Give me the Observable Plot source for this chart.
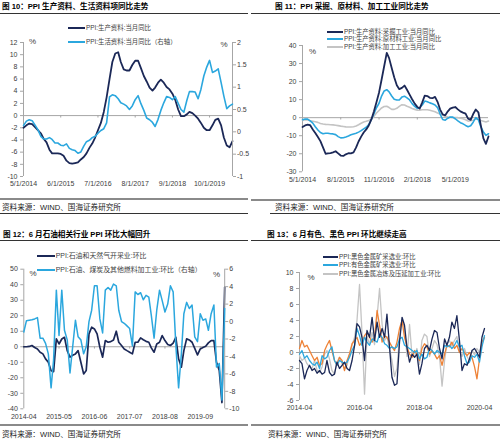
<!DOCTYPE html>
<html><head><meta charset="utf-8">
<script src="https://cdn.jsdelivr.net/npm/d3@7"></script>
<script src="https://cdn.jsdelivr.net/npm/@observablehq/plot@0.6"></script>
<style>
html,body{margin:0;padding:0;background:#fff;}
#root{position:relative;width:500px;height:442px;overflow:hidden;background:#fff;font-family:"Liberation Sans",Arial,"Noto Sans CJK SC",sans-serif;}
.t{position:absolute;white-space:nowrap;font-size:7.6px;font-weight:700;color:#000;line-height:10px;font-family:"Liberation Sans","Noto Sans CJK SC",sans-serif;}
.src{position:absolute;white-space:nowrap;font-size:7.6px;color:#222;line-height:9px;font-family:"Liberation Sans","Noto Sans CJK SC",sans-serif;}
.rule{position:absolute;}
.leg{position:absolute;white-space:nowrap;color:#404040;line-height:8px;height:8px;display:flex;align-items:center;font-family:"Liberation Sans","Noto Sans CJK SC",sans-serif;}
.leg i{display:inline-block;height:0;border-top:2px solid;margin-right:1px;}
.pct{position:absolute;font-size:8px;color:#404040;line-height:8px;}
.box{position:absolute;}
.box svg{position:absolute;left:0;top:0;max-width:none !important;}
</style></head>
<body><div id="root"></div>
<script>
// ---------- text ----------
const titles = ["图 10：PPI 生产资料、生活资料项同比走势","图 11：PPI 采掘、原材料、加工工业同比走势","图 12：6 月石油相关行业 PPI 环比大幅回升","图 13：6 月有色、黑色 PPI 环比继续走高"];
const sourceText = "资料来源：WIND、国海证券研究所";

// ---------- panel 1 (monthly from 2014-05) ----------
const p1Start = "2014-05";
const p1Producer = [-2.0,-1.6,-1.3,-1.4,-1.9,-2.4,-2.9,-3.8,-4.4,-5.6,-6.2,-6.2,-6.2,-6.3,-6.6,-7.4,-7.8,-7.9,-7.8,-7.7,-7.2,-6.8,-6.2,-5.3,-4.6,-3.6,-2.4,-1.2,0.6,3.0,6.0,8.8,10.2,10.4,8.8,7.6,7.4,7.4,8.3,9.0,9.0,7.8,6.5,5.6,4.6,4.1,4.6,5.4,5.9,5.4,4.7,4.3,3.6,2.6,1.0,-0.1,-0.1,0.2,0.6,0.4,0.0,-0.5,-1.2,-2.0,-2.4,-2.4,-1.6,-0.7,-0.5,-1.6,-3.6,-4.9,-5.2,-4.2];
const p1Consumer = [0.14,0.24,0.27,0.25,0.15,0.05,-0.1,-0.16,-0.16,-0.13,-0.17,-0.25,-0.25,-0.3,-0.31,-0.27,-0.37,-0.40,-0.42,-0.48,-0.45,-0.32,-0.22,-0.19,-0.13,-0.10,-0.03,0.03,0.07,0.2,0.78,0.83,0.81,0.74,0.65,0.62,0.58,0.50,0.58,0.72,0.81,0.63,0.48,0.31,0.27,0.21,0.12,0.28,0.48,0.65,0.79,0.77,0.72,0.79,0.64,0.5,0.44,0.7,0.9,0.9,0.89,0.74,0.95,1.25,1.45,1.6,1.33,1.36,1.41,1.1,0.8,0.52,0.58,0.62];
const p1Ticks = ["2014-05","2015-06","2016-07","2017-08","2018-09","2019-10"];
const p1TickLabels = ["5/1/2014","6/1/2015","7/1/2016","8/1/2017","9/1/2018","10/1/2019"];
const p1LeftTicks = [-10,-8,-6,-4,-2,0,2,4,6,8,10,12];
const p1RightTicks = [-1,-0.5,0,0.5,1,1.5,2];
const p1Legend = ["PPI:生产资料:当月同比","PPI:生活资料:当月同比（右轴）"];

// ---------- panel 2 (monthly from 2014-05) ----------
const p2Start = "2014-05";
const p2Mining = [-5.2,-4.3,-3.9,-4.2,-6.5,-8.5,-10.7,-13,-16.5,-20,-19.8,-19.6,-19.2,-18.6,-19.8,-21,-21.2,-20.3,-19.7,-19.8,-19.2,-16.5,-13.2,-10.5,-8.2,-6.5,-4.3,-1,3.5,8.5,14,21,28.5,35.9,33,27.5,22.4,18,15.8,16.5,17.8,15.5,12.8,10.2,7.8,6.0,5.0,8.5,12.2,12.0,11.0,10.8,11.5,8.8,4.5,1.8,1.3,3.5,5.0,5.6,5.9,4.6,3.5,2.8,2.2,-0.5,-1.2,2.0,4.5,3.0,-4.3,-11.5,-14.5,-10.4];
const p2Raw = [-1.1,-0.7,-0.8,-1.8,-3.0,-5.0,-6.8,-8.2,-8.9,-8.6,-8.6,-8.9,-9.0,-9.4,-10.5,-11.2,-11.1,-10.7,-10.2,-9.5,-9.0,-8.6,-8.0,-7.2,-6.2,-5.3,-3.8,-1.0,2.2,5.5,8.0,12.0,14.8,15.5,14.3,12.0,10.2,9.8,9.8,11.4,11.9,11.0,9.8,7.8,6.2,5.1,5.5,7.0,9.2,8.8,8.2,7.7,7.0,5.6,2.0,-1.0,-1.4,-0.3,0.4,0.3,-0.6,-1.8,-2.8,-3.4,-4.3,-5.0,-4.5,-2.5,0.0,-1.2,-5.0,-8.0,-9.8,-8.9];
const p2Proc = [-1.5,-1.2,-1.1,-1.7,-2.0,-2.3,-2.6,-3.2,-3.5,-3.7,-3.8,-3.9,-4.0,-4.2,-4.4,-4.7,-4.9,-5.1,-5.2,-5.2,-5.0,-4.6,-3.9,-3.1,-2.4,-2.0,-1.5,-0.8,0.8,2.6,4.0,5.4,6.2,6.3,5.6,4.6,4.6,5.2,6.3,7.2,7.0,6.3,5.8,5.1,4.6,4.1,4.2,4.4,4.4,4.4,4.1,3.7,3.3,2.6,2.0,1.3,0.8,0.4,0.2,0.0,0.0,0.0,-0.3,-0.6,-1.2,-1.9,-1.7,-1.4,-0.8,-0.8,-1.6,-2.0,-2.4,-1.9];
const p2Ticks = ["2014-05","2015-08","2016-11","2018-02","2019-05"];
const p2TickLabels = ["5/1/2014","8/1/2015","11/1/2016","2/1/2018","5/1/2019"];
const p2YTicks = [-30,-20,-10,0,10,20,30,40];
const p2Legend = ["PPI:生产资料:采掘工业:当月同比","PPI:生产资料:原材料工业:当月同比","PPI:生产资料:加工工业:当月同比"];

// ---------- panel 3 (monthly from 2014-04) ----------
const p3Start = "2014-04";
const p3OilGas = [0,0,0.2,0.8,-0.5,-1.4,-3.5,-4.6,-7.8,-10,-15.5,-16,5.1,1.8,5.0,6.1,-2.5,-6.7,-5.5,-4.6,-2.5,-10,-17.5,-15.3,8.3,12.6,11.5,8.3,-0.3,-6.7,4.0,2.9,3.3,4.4,10,2.9,0.8,-1.4,-2.5,-3.5,-4.6,2.9,2.9,5.7,4.5,3.5,2.9,-0.7,-3.5,1.8,2.9,7.2,4.0,1.5,0.8,2.3,6.1,-7.8,-13.2,-2.5,5.1,4.4,2.9,-1.0,-5.3,-1.4,-0.5,0.3,2.5,4.0,4.0,-10,-15.3,-36,38.5];
const p3Petro = [-1.2,0.1,0.15,0.2,0.3,0.45,-1.9,-1.9,-2.5,-3.7,-7.6,-4.4,3.6,-1.6,3.6,-1.0,-2.1,-5.9,-2.9,0.15,-1.75,-2.1,-3.7,-2.9,0.0,1.3,4.1,4.1,0.3,-1.3,3.6,3.9,3.6,4.3,4.1,1.3,0.0,-0.2,-0.5,-0.8,-2.8,3.4,3.1,3.3,2.5,3.0,2.8,0.7,-1.9,1.3,3.6,2.4,1.1,2.0,4.1,3.4,-2.7,-7.6,-3.7,0.9,2.2,1.5,1.9,-1.75,-2.3,0.9,0.15,0.3,-1.0,0.9,1.9,-5.2,-4.8,-9.0,1.5];
const p3Ticks = ["2014-04","2015-05","2016-06","2017-07","2018-08","2019-09"];
const p3TickLabels = ["2014-04","2015-05","2016-06","2017-07","2018-08","2019-09"];
const p3LeftTicks = [-40,-30,-20,-10,0,10,20,30,40,50];
const p3RightTicks = [-10,-8,-6,-4,-2,0,2,4,6];
const p3Legend = ["PPI:石油和天然气开采业:环比","PPI:石油、煤炭及其他燃料加工业:环比（右轴）"];

// ---------- panel 4 (monthly from 2014-04) ----------
const p4Start = "2014-04";
const p4FerrousMining = [-1.0,-1.4,-3.3,-2.25,-1.6,-2.25,-2,-2.6,-2.25,-2.7,-2.5,-1,-2.5,-2.9,-2.7,-1.2,-2,-1.6,-1.2,-2,-2.25,-1,0.9,3.6,3.2,1.9,-1.0,2.75,1.9,4.4,1.5,3.8,1.9,3,1.9,4.8,0.7,-3.1,-4.1,-3.9,1.3,4.4,3.4,0.5,-1.2,-0.2,-0.6,-0.2,-2.7,-1.4,0.5,0.9,0.25,1.7,2.75,2.5,0.5,-0.8,1.7,0.9,1.9,3.8,3.0,4.6,1.5,-2.25,-1.4,-1.6,-0.8,0.25,0.5,0,-0.6,1.9,3.0];
const p4NonferrousMining = [-0.2,0.25,-0.7,-0.4,-1.0,-1.4,-1.6,-1.2,-2.0,-0.4,-0.8,-0.6,0.25,0.7,-1.0,-1.6,-1.0,-1.2,-1.4,-1.2,-0.6,0.25,0.9,3.0,2.1,0.9,1.9,1.3,0.9,1.7,1.5,1.3,2.3,1.9,1.1,0.9,0.5,0.7,0.5,0.7,1.7,1.9,0.9,0.7,0.5,0.25,0,0.25,-0.8,-0.2,-0.8,-0.6,0.5,0.25,-0.2,0.25,0,-0.2,0.9,0.7,0.9,0.5,0.9,1.5,0.7,0.9,-0.4,-1.4,-1.2,-0.4,-0.6,-0.2,-1.2,0.7,2.1];
const p4FerrousSmelting = [-0.4,-1,-0.7,-1.4,-1.8,-2.0,-1.0,-2.25,-2.5,-1.8,-0.2,0.25,-0.8,-2.25,-2.7,-1.2,-0.6,-1.4,-2.0,-1.6,-0.2,0.9,1.9,4.0,8.5,2.5,-5.2,2.0,1.0,2.5,1.0,4.5,8.0,3.5,1.5,2.0,0.5,-1.0,-3.0,-2.0,2.0,4.0,3.0,-0.5,3.5,-0.5,-0.5,0.5,-1.5,1.5,2.3,2.0,-0.5,0.5,1.5,1.0,-0.5,-4.2,-1.0,1.0,1.5,0.8,1.5,2.0,0.3,-0.5,0.5,-0.5,-1.0,0.3,-0.3,0.5,0.0,1.0,1.8];
const p4NonferrousSmelting = [0.5,1.5,0.7,0.9,0.25,-0.4,-1.0,-0.6,-1.6,-1.4,0.25,0.9,1.5,0.25,-1.0,-1.6,-0.6,-1.0,-2.25,-1.0,-0.2,1.1,1.5,1.9,0.9,1.3,2.1,2.5,1.9,1.3,1.9,5.25,3.4,1.3,2.1,1.9,1.3,0.7,0.25,1.3,3.0,4.0,1.9,0.7,-0.2,-0.6,0.25,-0.2,-1.0,0.5,1.1,0.7,-0.2,0.25,-0.2,-0.8,-0.4,-1.6,-0.2,0.9,0.7,1.3,0.5,0.9,0,0.5,0,-0.4,0,-0.6,-1.8,-3.3,-0.8,1.3,1.9];
const p4Ticks = ["2014-04","2016-04","2018-04","2020-04"];
const p4TickLabels = ["2014-04","2016-04","2018-04","2020-04"];
const p4YTicks = [-6,-4,-2,0,2,4,6,8,10];
const p4Legend = ["PPI:黑色金属矿采选业:环比","PPI:有色金属矿采选业:环比","PPI:黑色金属冶炼及压延加工业:环比"];

// ---------- colours ----------
const NAVY = "#1b2857", SKY = "#2ba7de", GRAY = "#c4c4c4", ORANGE = "#ee8236";
const AXIS = "#a6a6a6", TXT = "#404040";
const FONT = '"Liberation Sans", Arial, "Noto Sans CJK SC", sans-serif';

const root = document.getElementById("root");
const md = s => new Date(s + "-01T00:00:00Z");
const series = (start, values) => values.map((v, i) => ({date: d3.utcMonth.offset(md(start), i), value: v}));
const endOf = (start, values) => d3.utcMonth.offset(md(start), values.length - 1);
const labeler = (ticks, labels) => { const m = new Map(ticks.map((t, i) => [+md(t), labels[i]])); return d => m.get(+d) ?? ""; };

function makePlot(o) {
  const marks = [];
  const [x0, x1] = o.xDomain;
  if (o.zero) {
    marks.push(Plot.ruleY([0], {stroke: AXIS, strokeWidth: 1}));
    marks.push(Plot.ruleX(o.xTicks.map(md), {x: d => d, y1: 0, y2: -o.tickLen, stroke: AXIS}));
  }
  marks.push(Plot.ruleX([o.anchor === "right" ? x1 : x0], {stroke: AXIS}));
  marks.push(Plot.axisY({anchor: o.anchor, ticks: o.yTicks, tickSize: 3, tickPadding: o.anchor === "right" ? 1.5 : 3,
    tickFormat: d => String(d), stroke: AXIS, fill: TXT, label: null}));
  if (!o.overlay) marks.push(Plot.axisX({ticks: o.xTicks.map(md), tickFormat: labeler(o.xTicks, o.xLabels), tickSize: 0, tickPadding: 5, fill: TXT, label: null}));
  for (const s of o.lines) marks.push(Plot.line(s.data, {x: "date", y: "value", stroke: s.color, strokeWidth: s.width, strokeLinejoin: "round"}));
  return Plot.plot({
    width: o.w, height: o.h, marginTop: o.mt, marginRight: o.mr, marginBottom: o.mb, marginLeft: o.ml,
    x: {type: "utc", domain: o.xDomain, axis: o.overlay ? null : undefined},
    y: {domain: o.yDomain, axis: null},
    style: {fontFamily: FONT, fontSize: "7px", background: "transparent", overflow: "visible", color: TXT},
    marks
  });
}

function box(left, top, w, h, svgs) {
  const d = document.createElement("div");
  d.className = "box";
  Object.assign(d.style, {left: left + "px", top: top + "px", width: w + "px", height: h + "px"});
  svgs.forEach(s => d.appendChild(s));
  root.appendChild(d);
}
function text(cls, str, left, cy, extra = {}) {
  const d = document.createElement("div");
  d.className = cls; d.textContent = str;
  Object.assign(d.style, {left: left + "px", top: (cy - 5) + "px"}, extra);
  root.appendChild(d);
  return d;
}
function rule(x0, x1, y, thick, color) {
  const d = document.createElement("div");
  d.className = "rule";
  Object.assign(d.style, {left: x0 + "px", width: (x1 - x0) + "px", top: (y - thick / 2) + "px", height: thick + "px", background: color});
  root.appendChild(d);
}
function legend(items, x, lineW, ys, fs) {
  items.forEach((it, i) => {
    const d = document.createElement("div");
    d.className = "leg";
    d.style.left = x + "px"; d.style.top = (ys[i] - 4) + "px"; d.style.fontSize = fs + "px";
    const sw = document.createElement("i");
    sw.style.width = lineW + "px"; sw.style.borderTopColor = it.color;
    d.appendChild(sw);
    d.appendChild(document.createTextNode(it.label));
    root.appendChild(d);
  });
}
function pct(x, cy) { const d = text("pct", "%", x, cy); d.style.top = (cy - 4) + "px"; }

// ---------- frame: titles and sources ----------
text("t", titles[0], 2, 7);
text("t", titles[1], 275, 7);
text("t", titles[2], 3, 234.7);
text("t", titles[3], 267, 234.7);
rule(0, 248, 13.6, 1.6, "#333");
rule(251, 500, 13.6, 1.6, "#333");
rule(0, 248, 240.3, 1.6, "#333");
rule(251, 500, 240.3, 1.6, "#333");
rule(0, 248, 199.2, 1.6, "#8a8a8a");
rule(251, 500, 199.8, 1.6, "#8a8a8a");
rule(0, 248, 213.5, 0.8, "#333");
rule(270, 500, 213.5, 0.8, "#333");
rule(0, 248, 425, 1.6, "#8a8a8a");
rule(251, 500, 425, 1.6, "#8a8a8a");
text("src", sourceText, 2, 207.5);
text("src", sourceText, 275, 207.5);
text("src", sourceText, 2, 434.5);
text("src", sourceText, 268, 434.5);

// ---------- panel 1 ----------
{
  const dom = [md(p1Start), endOf(p1Start, p1Producer)];
  const g = {w: 250, h: 180, mt: 22, mr: 18, mb: 24, ml: 23, xDomain: dom, xTicks: p1Ticks, xLabels: p1TickLabels};
  const base = makePlot({...g, yDomain: [-10, 12], yTicks: p1LeftTicks, anchor: "left", zero: true, tickLen: 0.4,
    lines: [{data: series(p1Start, p1Producer), color: NAVY, width: 1.8}]});
  const over = makePlot({...g, overlay: true, yDomain: [-1, 2], yTicks: p1RightTicks, anchor: "right",
    lines: [{data: series(p1Start, p1Consumer), color: SKY, width: 1.6}]});
  box(0, 20, 250, 180, [base, over]);
  legend([{label: p1Legend[0], color: NAVY}, {label: p1Legend[1], color: SKY}], 68, 17, [28.3, 41.5], 6.4);
  pct(29, 42); pct(220.5, 45);
}
// ---------- panel 2 ----------
{
  const dom = [md(p2Start), endOf(p2Start, p2Mining)];
  const base = makePlot({w: 250, h: 180, mt: 25, mr: 12, mb: 28.7, ml: 52, xDomain: dom, xTicks: p2Ticks, xLabels: p2TickLabels,
    yDomain: [-30, 40], yTicks: p2YTicks, anchor: "left", zero: true, tickLen: 1.3,
    lines: [{data: series(p2Start, p2Proc), color: GRAY, width: 1.6},
            {data: series(p2Start, p2Raw), color: SKY, width: 1.6},
            {data: series(p2Start, p2Mining), color: NAVY, width: 1.8}]});
  box(250, 20, 250, 180, [base]);
  legend([{label: p2Legend[0], color: NAVY}, {label: p2Legend[1], color: SKY}, {label: p2Legend[2], color: GRAY}], 327, 16, [31.7, 39.2, 46.7], 6.3);
  pct(309, 52);
}
// ---------- panel 3 ----------
{
  const dom = [md(p3Start), endOf(p3Start, p3OilGas)];
  const g = {w: 250, h: 190, mt: 23.7, mr: 25.8, mb: 26.7, ml: 23.3, xDomain: dom, xTicks: p3Ticks, xLabels: p3TickLabels};
  const base = makePlot({...g, yDomain: [-40, 50], yTicks: p3LeftTicks, anchor: "left", zero: true, tickLen: 1.5,
    lines: [{data: series(p3Start, p3OilGas), color: NAVY, width: 1.7}]});
  const over = makePlot({...g, overlay: true, yDomain: [-10, 6], yTicks: p3RightTicks, anchor: "right",
    lines: [{data: series(p3Start, p3Petro), color: SKY, width: 1.5}]});
  box(0, 245, 250, 190, [base, over]);
  legend([{label: p3Legend[0], color: NAVY}, {label: p3Legend[1], color: SKY}], 36.7, 18, [256.3, 269.7], 6.9);
  pct(29.5, 273.8); pct(213, 274.5);
}
// ---------- panel 4 ----------
{
  const dom = [md(p4Start), endOf(p4Start, p4FerrousMining)];
  const base = makePlot({w: 250, h: 190, mt: 27, mr: 16, mb: 35, ml: 49, xDomain: dom, xTicks: p4Ticks, xLabels: p4TickLabels,
    yDomain: [-6, 10], yTicks: p4YTicks, anchor: "left", zero: true, tickLen: 0.3,
    lines: [{data: series(p4Start, p4FerrousSmelting), color: GRAY, width: 1.3},
            {data: series(p4Start, p4NonferrousSmelting), color: ORANGE, width: 1.3},
            {data: series(p4Start, p4NonferrousMining), color: SKY, width: 1.3},
            {data: series(p4Start, p4FerrousMining), color: NAVY, width: 1.3}]});
  box(250, 245, 250, 190, [base]);
  legend([{label: p4Legend[0], color: NAVY}, {label: p4Legend[1], color: SKY}, {label: p4Legend[2], color: GRAY}], 322.7, 15.3, [257, 265.3, 273.7], 6.3);
  pct(307.5, 278);
}
</script></body></html>
